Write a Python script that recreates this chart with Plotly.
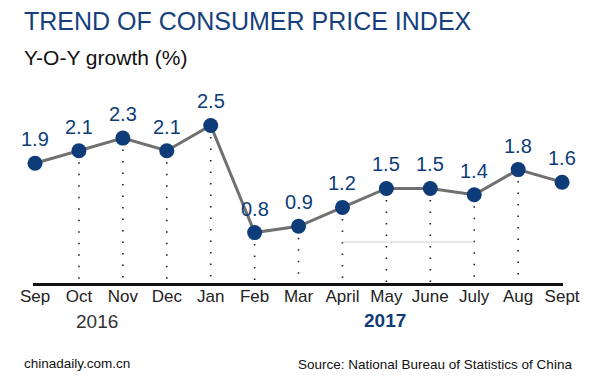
import plotly.graph_objects as go

months = ["Sep", "Oct", "Nov", "Dec", "Jan", "Feb", "Mar", "April", "May", "June", "July", "Aug", "Sept"]
cpi_growth = [1.9, 2.1, 2.3, 2.1, 2.5, 0.8, 0.9, 1.2, 1.5, 1.5, 1.4, 1.8, 1.6]
year_labels = ["2016", "2017"]
guide_value = 0.65  # faint horizontal guide between April and July
guide_months = ["April", "July"]

W, H = 600, 377
L, R, T, B = 33, 37, 90, 94
FONT = "Liberation Sans, Arial, sans-serif"
NAVY = "#0d3c78"

x_idx = list(range(len(months)))

def px_x(p):
    return (p - L) / (W - L - R)

def px_y(p):
    return 1 - (p - T) / (H - T - B)

fig = go.Figure()

# dotted drop lines (Oct..Aug)
dx, dy = [], []
for i in x_idx[1:-1]:
    dx += [i, i, None]
    dy += [cpi_growth[i], 0, None]
fig.add_trace(go.Scatter(x=dx, y=dy, mode="lines",
                         line=dict(color="#222222", width=1.6, dash="1.5px,10px"),
                         hoverinfo="skip", showlegend=False))

# faint guide line
gi = [months.index(m) for m in guide_months]
fig.add_trace(go.Scatter(x=gi, y=[guide_value] * 2, mode="lines",
                         line=dict(color="#d0d0d0", width=1),
                         hoverinfo="skip", showlegend=False))

# main line
fig.add_trace(go.Scatter(x=x_idx, y=cpi_growth, mode="lines+markers",
                         line=dict(color="#707070", width=3),
                         marker=dict(color=NAVY, size=15),
                         cliponaxis=False, showlegend=False))

annotations = []
for i, v in zip(x_idx, cpi_growth):
    annotations.append(dict(x=i, y=v, xref="x", yref="y", text=f"{v:.1f}",
                            showarrow=False, yanchor="middle", yshift=24,
                            font=dict(family=FONT, size=20, color=NAVY)))

# year labels
annotations.append(dict(x=px_x(97), y=px_y(321), xref="paper", yref="paper",
                        text=year_labels[0], showarrow=False, xanchor="center", yanchor="middle",
                        font=dict(family=FONT, size=19, color="#333333")))
annotations.append(dict(x=px_x(385), y=px_y(320), xref="paper", yref="paper",
                        text="<b>" + year_labels[1] + "</b>", showarrow=False,
                        xanchor="center", yanchor="middle",
                        font=dict(family=FONT, size=19, color=NAVY)))

# titles
annotations.append(dict(x=px_x(22), y=px_y(21), xref="paper", yref="paper",
                        text="TREND OF CONSUMER PRICE INDEX", showarrow=False,
                        xanchor="left", yanchor="middle",
                        font=dict(family=FONT, size=25, color="#163f7e")))
annotations.append(dict(x=px_x(22), y=px_y(57), xref="paper", yref="paper",
                        text="Y-O-Y growth (%)", showarrow=False,
                        xanchor="left", yanchor="middle",
                        font=dict(family=FONT, size=21, color="#111111")))

# footer
annotations.append(dict(x=px_x(22), y=px_y(363), xref="paper", yref="paper",
                        text="chinadaily.com.cn", showarrow=False,
                        xanchor="left", yanchor="middle",
                        font=dict(family=FONT, size=13.5, color="#111111")))
annotations.append(dict(x=px_x(574), y=px_y(364), xref="paper", yref="paper",
                        text="Source: National Bureau of Statistics of China", showarrow=False,
                        xanchor="right", yanchor="middle",
                        font=dict(family=FONT, size=13.5, color="#111111")))

fig.update_layout(
    width=W, height=H,
    margin=dict(l=L, r=R, t=T, b=B, pad=0),
    paper_bgcolor="white", plot_bgcolor="white",
    annotations=annotations,
    xaxis=dict(range=[-0.046, 12.021], tickmode="array", tickvals=x_idx, ticktext=months,
               showgrid=False, zeroline=False, showline=True, linecolor="#111111", linewidth=3,
               ticks="", ticklabelstandoff=-4,
               tickfont=dict(family=FONT, size=17, color="#222222"), fixedrange=True),
    yaxis=dict(range=[0, 3.063], visible=False, showgrid=False, zeroline=False, fixedrange=True),
    font=dict(family=FONT),
)

fig.write_html("out.html", config={"displayModeBar": False},
               post_script="document.body.style.margin='0';document.body.style.overflow='hidden';")
